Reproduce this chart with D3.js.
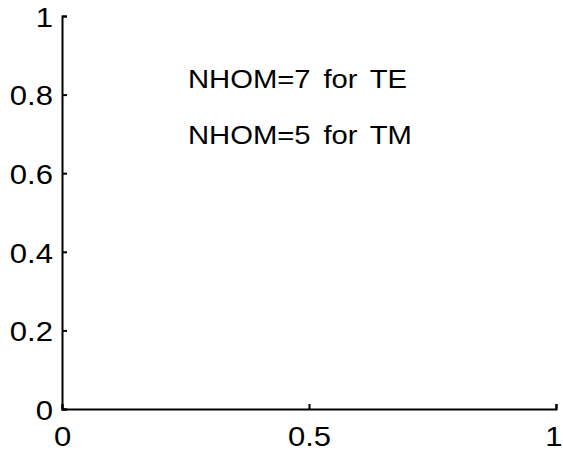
<!DOCTYPE html>
<html><head><meta charset="utf-8">
<script src="https://cdn.jsdelivr.net/npm/d3@7"></script>
<style>body{margin:0;background:#fff}svg{display:block}</style>
</head><body>
<script>
const xTicks = [0, 0.5, 1];
const yTicks = [0, 0.2, 0.4, 0.6, 0.8, 1];
const annotations = [
  {x: 0.255, y: 0.817, text: "NHOM=7 for TE"},
  {x: 0.255, y: 0.674, text: "NHOM=5 for TM"}
];
const W = 563, H = 457;
const m = {left: 62, right: 7, top: 16, bottom: 48};
const SX = 1.15;
const svg = d3.select("body").append("svg").attr("width", W).attr("height", H);
const x = d3.scaleLinear().domain([0, 1]).range([m.left, W - m.right]);
const y = d3.scaleLinear().domain([0, 1]).range([H - m.bottom, m.top]);
const font = "'Liberation Sans', Arial, Helvetica, sans-serif";

const gx = svg.append("g").attr("transform", `translate(0,${y(0)})`)
  .call(d3.axisBottom(x).tickValues(xTicks).tickFormat(d3.format("")).tickSizeInner(-5).tickSizeOuter(-5).tickPadding(18));
const gy = svg.append("g").attr("transform", `translate(${x(0)},0)`)
  .call(d3.axisLeft(y).tickValues(yTicks).tickFormat(d3.format("")).tickSizeInner(-5).tickSizeOuter(-5).tickPadding(9));
[gx, gy].forEach(g => {
  g.selectAll("path,line").attr("stroke", "#000").attr("stroke-width", 2);
  g.selectAll("text").attr("font-family", font).attr("font-size", 27).attr("fill", "#000")
    .attr("transform", `scale(${SX},1)`);
});
gy.selectAll("text").attr("x", -9 / SX).attr("dy", "0.38em");
// keep the last x label inside the picture: right-align it near the edge
gx.selectAll(".tick text").filter(d => d === 1)
  .attr("text-anchor", "end").attr("x", (W - 1 - x(1)) / SX);

svg.selectAll("text.ann").data(annotations).enter().append("text")
  .attr("class", "ann")
  .attr("transform", d => `translate(${x(d.x)},${y(d.y)}) scale(1.17,1)`)
  .attr("font-family", font).attr("font-size", 25).attr("fill", "#000")
  .attr("word-spacing", 4)
  .text(d => d.text);
</script>
</body></html>
